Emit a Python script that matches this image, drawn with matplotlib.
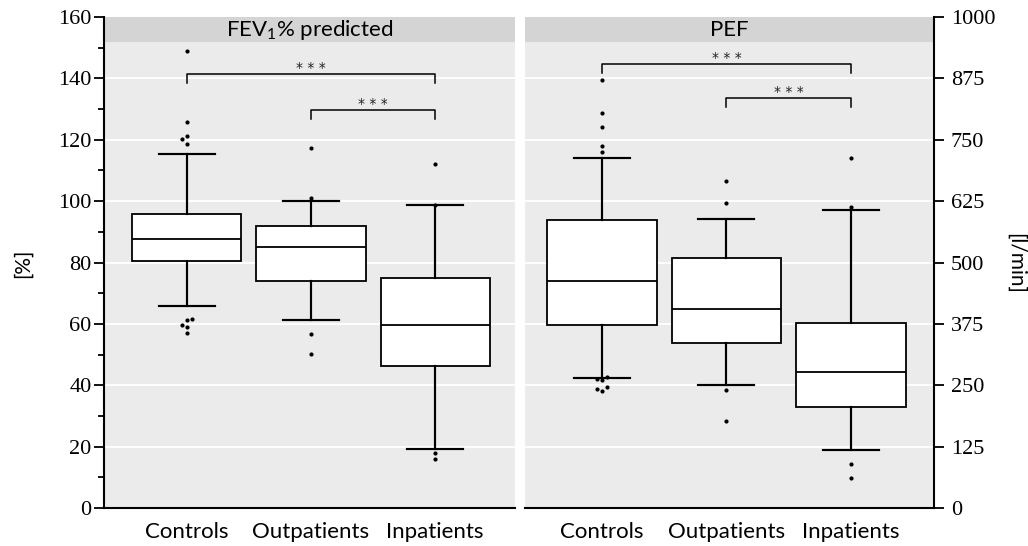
import matplotlib
matplotlib.use("Agg")
import matplotlib.pyplot as plt
from matplotlib.patches import Rectangle

# ---------------- data ----------------
groups = ["Controls", "Outpatients", "Inpatients"]

# FEV1 % predicted: box statistics per group
fev_q1 = [80.6, 74.0, 46.3]
fev_med = [87.5, 85.2, 59.6]
fev_q3 = [95.8, 92.0, 74.9]
fev_whislo = [65.8, 61.1, 19.2]
fev_whishi = [115.2, 100.2, 98.6]
fev_out_controls = [149.0, 125.9, 121.3, 120.4, 118.7, 61.6, 61.1, 59.5, 59.0, 56.9]
fev_out_outpatients = [117.4, 100.9, 56.6, 50.2]
fev_out_inpatients = [112.2, 98.9, 17.9, 16.0]

# PEF [l/min]: box statistics per group
pef_q1 = [372.7, 336.0, 205.7]
pef_med = [463.0, 404.7, 277.0]
pef_q3 = [586.6, 509.8, 376.1]
pef_whislo = [265.4, 249.9, 117.5]
pef_whishi = [712.8, 588.6, 606.3]
pef_out_controls = [871.7, 804.5, 775.3, 737.3, 725.7, 266.0, 262.0, 260.7, 247.0, 243.0, 237.7]
pef_out_outpatients = [665.4, 621.2, 239.7, 177.9]
pef_out_inpatients = [712.8, 613.0, 89.0, 61.7]

# significance comparisons (group index pairs) and labels
comparisons = [(0, 2), (1, 2)]
sig_labels = ["* * *", "* * *"]
fev_bracket_y = [141.4, 129.6]
pef_bracket_y = [903.6, 835.0]

fev_ticks = [0, 20, 40, 60, 80, 100, 120, 140, 160]
pef_ticks = [0, 125, 250, 375, 500, 625, 750, 875, 1000]

# ---------------- style ----------------
SANS = ["Lato", "DejaVu Sans"]
SERIF = ["Liberation Serif", "DejaVu Serif"]
plt.rcParams["font.family"] = SANS
plt.rcParams["mathtext.fontset"] = "custom"
plt.rcParams["mathtext.rm"] = "Lato"

PANEL_BG = "#ebebeb"
STRIP_BG = "#d4d4d4"
LW = 1.3
W, H = 1028, 546

fig = plt.figure(figsize=(W / 100, H / 100), dpi=100)
ax1 = fig.add_axes([104 / W, 1 - 508 / H, 411 / W, 491 / H])
ax2 = fig.add_axes([525 / W, 1 - 508 / H, 409 / W, 491 / H])


def make_stats(q1, med, q3, lo, hi):
    return [dict(q1=q1[i], med=med[i], q3=q3[i], whislo=lo[i], whishi=hi[i],
                 fliers=[], label=groups[i]) for i in range(len(groups))]


def dodge(values, thresh, step):
    """Spread nearly coincident points sideways, alternating left/right."""
    placed = []
    k = 0
    for v in sorted(values):
        clash = [p for p in placed if abs(p[0] - v) < thresh]
        if not any(p[1] == 0 for p in clash):
            off = 0
        else:
            side = [-step, step] if k % 2 == 0 else [step, -step]
            off = side[0]
            for s in side:
                if not any(p[1] == s for p in clash):
                    off = s
                    break
            k += 1
        placed.append((v, off))
    return [p[1] for p in placed], [p[0] for p in placed]


def draw_panel(ax, stats, outs, ylim, xlim, ticks, title, brackets, side):
    ax.set_facecolor(PANEL_BG)
    ax.set_xlim(*xlim)
    ax.set_ylim(*ylim)
    ax.yaxis.grid(True, color="white", linewidth=1.3, zorder=0)
    ax.set_axisbelow(True)
    positions = list(range(1, len(groups) + 1))
    ax.bxp(stats, positions=positions, widths=0.88, capwidths=0.45,
           showfliers=False, patch_artist=True,
           boxprops=dict(facecolor="white", edgecolor="black", linewidth=LW),
           medianprops=dict(color="black", linewidth=LW),
           whiskerprops=dict(color="black", linewidth=LW * 1.2),
           capprops=dict(color="black", linewidth=LW * 1.2))

    # outlying points, dodged when they would overlap
    px_per_unit = 491 / (ylim[1] - ylim[0])
    unit_x = 1 / 124.5
    for pos, vals in zip(positions, outs):
        offs, ys = dodge(vals, 5.5 / px_per_unit, 5 * unit_x)
        ax.plot([pos + o for o in offs], ys, "o", color="black",
                markersize=3.0, markeredgewidth=0, zorder=5)

    # significance brackets
    drop = 9 / px_per_unit
    for (a, b), yb, lab in zip(comparisons, brackets, sig_labels):
        xa, xb = positions[a], positions[b]
        ax.plot([xa, xa, xb, xb], [yb - drop, yb, yb, yb - drop],
                color="black", linewidth=1.1, zorder=4)
        ax.annotate(lab, xy=((xa + xb) / 2, yb), xytext=(0, 1.5),
                    textcoords="offset points", ha="center", va="baseline",
                    fontsize=10, family=["DejaVu Sans"], color="#222222")

    # facet strip across the top of the panel
    sh = 25 / 491
    ax.add_patch(Rectangle((0, 1 - sh), 1, sh, transform=ax.transAxes,
                           facecolor=STRIP_BG, edgecolor="none", zorder=6,
                           clip_on=False))
    ax.text(0.5, 1 - sh / 2, title, transform=ax.transAxes, ha="center",
            va="center", fontsize=16, zorder=7)

    ax.set_xticks(positions)
    ax.set_xticklabels(groups, fontsize=16)
    ax.tick_params(axis="x", length=0, pad=10)
    for s in ["top", "left", "right"]:
        ax.spines[s].set_visible(False)
    ax.spines["bottom"].set_linewidth(1.5)
    ax.spines[side].set_visible(True)
    ax.spines[side].set_linewidth(1.5)
    ax.spines[side].set_zorder(8)
    if side == "right":
        ax.yaxis.tick_right()
        pad = 5
    else:
        pad = 2
    ax.set_yticks(ticks)
    ax.set_yticklabels([str(t) for t in ticks], fontsize=16,
                       fontfamily=SERIF)
    ax.tick_params(axis="y", which="major", length=7, width=1.3, pad=pad)


s1 = make_stats(fev_q1, fev_med, fev_q3, fev_whislo, fev_whishi)
draw_panel(ax1, s1, [fev_out_controls, fev_out_outpatients, fev_out_inpatients],
           (0, 160), (0.333, 3.643), fev_ticks,
           "FEV$_\\mathregular{1}$% predicted", fev_bracket_y, "left")
ax1.set_yticks(range(10, 160, 20), minor=True)
ax1.tick_params(axis="y", which="minor", length=4.5, width=1.3)

s2 = make_stats(pef_q1, pef_med, pef_q3, pef_whislo, pef_whishi)
draw_panel(ax2, s2, [pef_out_controls, pef_out_outpatients, pef_out_inpatients],
           (0, 1000), (0.382, 3.667), pef_ticks,
           "PEF", pef_bracket_y, "right")

fig.text(23 / W, 1 - 263 / H, "[%]", rotation=90, ha="center", va="center",
         fontsize=15)
fig.text(1015 / W, 1 - 263 / H, "[l/min]", rotation=270, ha="center",
         va="center", fontsize=15)

fig.savefig("out.png", dpi=100)
